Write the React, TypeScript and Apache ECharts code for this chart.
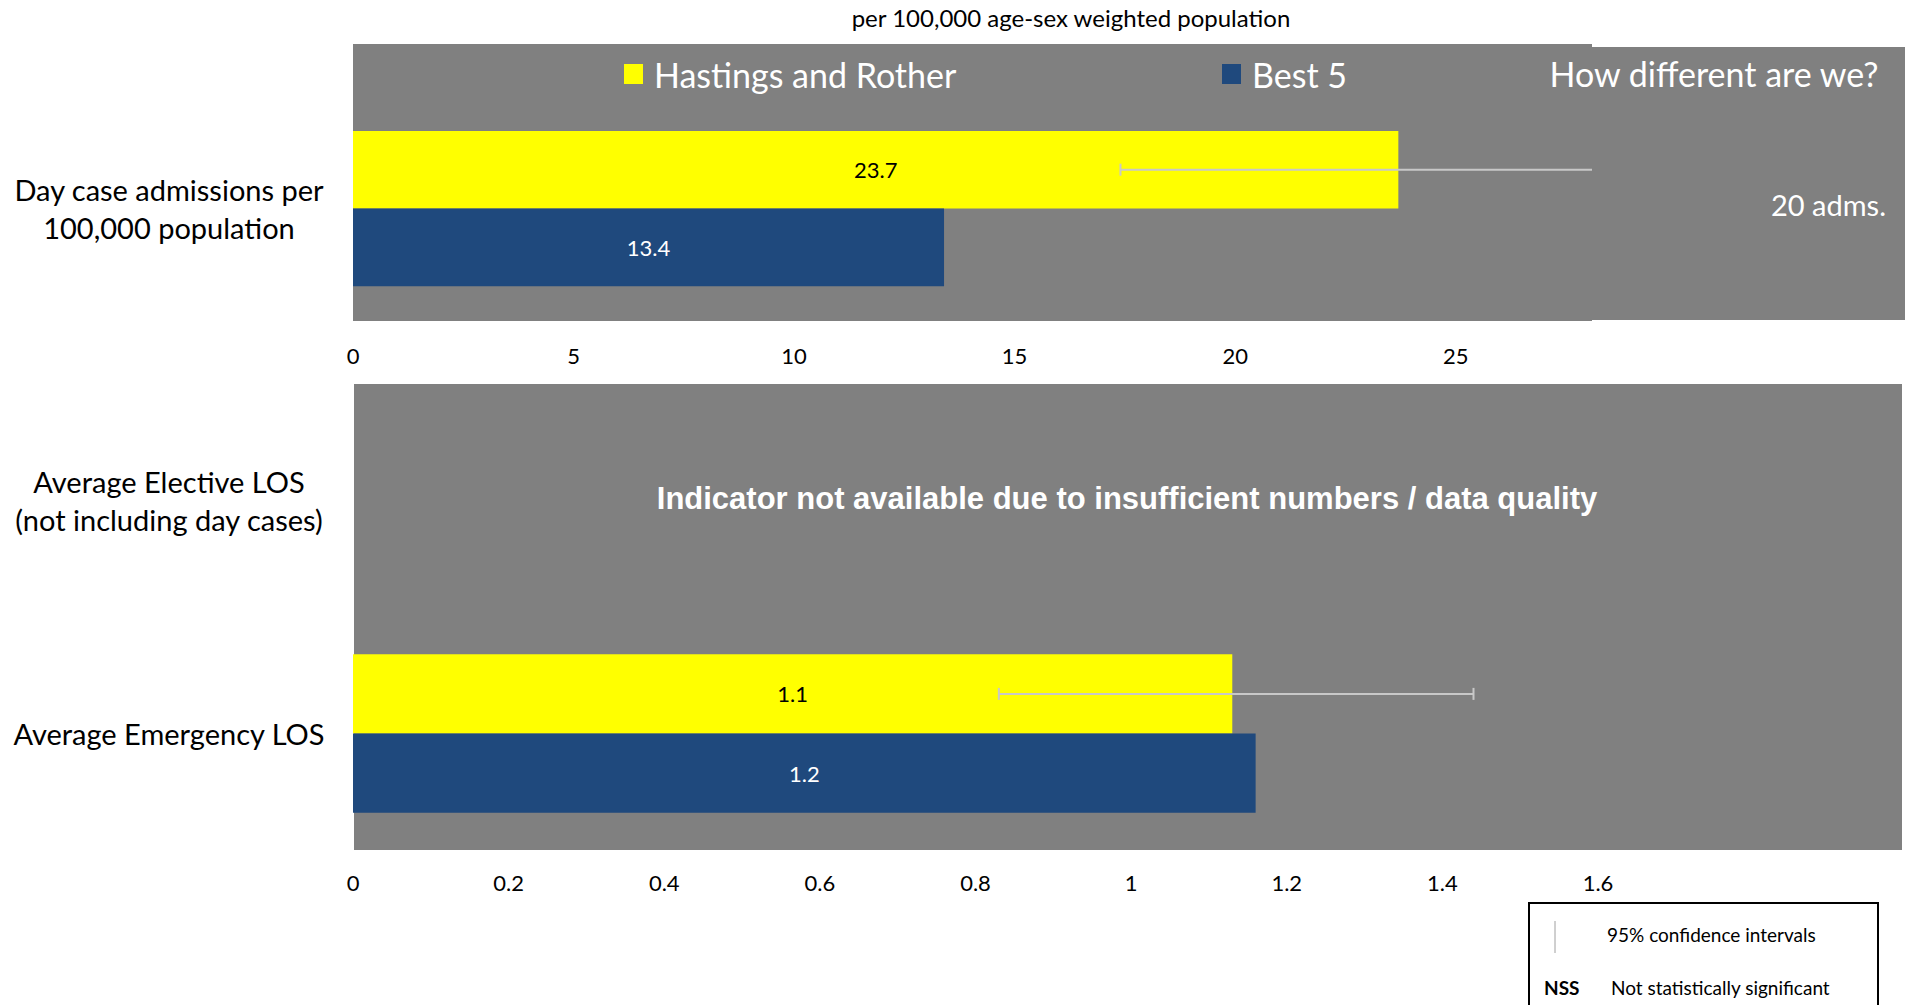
import React, { useEffect, useRef } from 'react';
import * as echarts from 'echarts';

// ---------- data ----------
const seriesNames = ['Hastings and Rother', 'Best 5'];

const topCategories = ['Day case admissions per\n100,000 population'];
const topHastings = [23.7];
const topBest5 = [13.4];
const topCI: ([number, number] | null)[] = [[17.4, 29.5]];
const topAxisMin = 0;
const topAxisMax = 28;
const topAxisInterval = 5;

const bottomCategories = ['Average Elective LOS\n(not including day cases)', 'Average Emergency LOS'];
const bottomHastings = [null, 1.13];
const bottomBest5 = [null, 1.16];
const bottomCI: ([number, number] | null)[] = [null, [0.83, 1.44]];
const bottomAxisMin = 0;
const bottomAxisMax = 1.6;
const bottomAxisInterval = 0.2;

const titleText = 'per 100,000 age-sex weighted population';
const diffHeader = 'How different are we?';
const diffValue = '20 adms.';
const notAvailableText = 'Indicator not available due to insufficient numbers / data quality';
const keyCI = '95% confidence intervals';
const keyNSSAbbr = 'NSS';
const keyNSS = 'Not statistically significant';

// ---------- styles ----------
const YELLOW = '#FFFF00';
const BLUE = '#1F497D';
const GRAY = '#808080';
const ERR = '#C8C8C8';
const FONT = 'Lato';
const GAP_TOP = 0.31;
const GAP_BOTTOM = 0.32;

function makeErrorRender(gap: number) {
  return (params: any, api: any) => {
    const cat = api.value(0);
    const lo = api.value(1);
    const hi = api.value(2);
    const pLo = api.coord([lo, cat]);
    const pHi = api.coord([hi, cat]);
    const band = api.size([0, 1])[1];
    const y = pLo[1] - (band * (1 - gap)) / 4;
    const cs = params.coordSys;
    const right = cs.x + cs.width;
    const xHi = Math.min(pHi[0], right + 4);
    const cap = 6;
    const style = { stroke: ERR, lineWidth: 2 };
    const children: any[] = [
      { type: 'line', shape: { x1: pLo[0], y1: y, x2: xHi, y2: y }, style },
      { type: 'line', shape: { x1: pLo[0], y1: y - cap, x2: pLo[0], y2: y + cap }, style },
    ];
    if (pHi[0] <= right) {
      children.push({ type: 'line', shape: { x1: pHi[0], y1: y - cap, x2: pHi[0], y2: y + cap }, style });
    }
    return { type: 'group', children };
  };
}

function ciData(ci: ([number, number] | null)[]) {
  const out: number[][] = [];
  ci.forEach((c, i) => {
    if (c) out.push([i, c[0], c[1]]);
  });
  return out;
}

function barLabel(color: string) {
  return {
    show: true,
    position: 'inside',
    color,
    fontFamily: FONT,
    fontSize: 22,
    formatter: (p: any) => (p.value == null ? '' : Number(p.value).toFixed(1)),
  };
}

export default function App() {
  const ref = useRef<HTMLDivElement>(null);

  useEffect(() => {
    if (!ref.current) return;
    const chart = echarts.init(ref.current, undefined, { renderer: 'svg' });

    const catLabel = {
      align: 'center',
      margin: 184,
      fontFamily: FONT,
      fontSize: 29,
      lineHeight: 38,
      color: '#000',
    };

    const legendBase = {
      top: 57,
      padding: 0,
      icon: 'rect',
      itemWidth: 19,
      itemHeight: 20,
      selectedMode: false,
      textStyle: { color: '#fff', fontSize: 34, fontFamily: FONT, padding: [0, 0, 0, 6] },
    };

    const option: any = {
      animation: false,
      backgroundColor: '#fff',
      textStyle: { fontFamily: FONT },
      legend: [
        { ...legendBase, data: [seriesNames[0]], left: 624 },
        { ...legendBase, data: [seriesNames[1]], left: 1222 },
      ],
      grid: [
        { left: 353, right: 318, top: 96, bottom: 684, containLabel: false, outerBoundsMode: 'none' },
        { left: 353, right: 308, top: 384, bottom: 155, containLabel: false, outerBoundsMode: 'none' },
      ],
      xAxis: [
        {
          gridIndex: 0,
          type: 'value',
          min: topAxisMin,
          max: topAxisMax,
          interval: topAxisInterval,
          axisLine: { show: false },
          axisTick: { show: false },
          splitLine: { show: false },
          axisLabel: { showMaxLabel: false, fontFamily: FONT, fontSize: 22, color: '#000', margin: 23 },
        },
        {
          gridIndex: 1,
          type: 'value',
          min: bottomAxisMin,
          max: bottomAxisMax,
          interval: bottomAxisInterval,
          axisLine: { show: false },
          axisTick: { show: false },
          splitLine: { show: false },
          axisLabel: { fontFamily: FONT, fontSize: 22, color: '#000', margin: 21 },
        },
      ],
      yAxis: [
        {
          gridIndex: 0,
          type: 'category',
          data: topCategories,
          inverse: true,
          axisLine: { show: false },
          axisTick: { show: false },
          axisLabel: catLabel,
        },
        {
          gridIndex: 1,
          type: 'category',
          data: bottomCategories,
          inverse: true,
          axisLine: { show: false },
          axisTick: { show: false },
          axisLabel: catLabel,
        },
      ],
      series: [
        {
          name: seriesNames[0],
          type: 'bar',
          xAxisIndex: 0,
          yAxisIndex: 0,
          data: topHastings,
          itemStyle: { color: YELLOW },
          barGap: '0%',
          barCategoryGap: GAP_TOP * 100 + '%',
          label: barLabel('#000'),
        },
        {
          name: seriesNames[1],
          type: 'bar',
          xAxisIndex: 0,
          yAxisIndex: 0,
          data: topBest5,
          itemStyle: { color: BLUE },
          barGap: '0%',
          barCategoryGap: GAP_TOP * 100 + '%',
          label: barLabel('#fff'),
        },
        {
          name: seriesNames[0],
          type: 'bar',
          xAxisIndex: 1,
          yAxisIndex: 1,
          data: bottomHastings,
          itemStyle: { color: YELLOW },
          barGap: '0%',
          barCategoryGap: GAP_BOTTOM * 100 + '%',
          label: barLabel('#000'),
        },
        {
          name: seriesNames[1],
          type: 'bar',
          xAxisIndex: 1,
          yAxisIndex: 1,
          data: bottomBest5,
          itemStyle: { color: BLUE },
          barGap: '0%',
          barCategoryGap: GAP_BOTTOM * 100 + '%',
          label: barLabel('#fff'),
        },
        {
          name: 'CI top',
          type: 'custom',
          xAxisIndex: 0,
          yAxisIndex: 0,
          z: 5,
          renderItem: makeErrorRender(GAP_TOP),
          encode: { x: [1, 2], y: 0 },
          data: ciData(topCI),
        },
        {
          name: 'CI bottom',
          type: 'custom',
          xAxisIndex: 1,
          yAxisIndex: 1,
          z: 5,
          renderItem: makeErrorRender(GAP_BOTTOM),
          encode: { x: [1, 2], y: 0 },
          data: ciData(bottomCI),
        },
      ],
      graphic: [
        { type: 'rect', z: -10, shape: { x: 353, y: 44, width: 1239, height: 277 }, style: { fill: GRAY } },
        { type: 'rect', z: -10, shape: { x: 1590, y: 47, width: 315, height: 273 }, style: { fill: GRAY } },
        { type: 'rect', z: -10, shape: { x: 354, y: 384, width: 1548, height: 466 }, style: { fill: GRAY } },
        {
          type: 'text', z: 50, x: 1071, y: 17,
          style: { text: titleText, fill: '#000', fontFamily: FONT, fontSize: 24, align: 'center', verticalAlign: 'middle' },
        },
        {
          type: 'text', z: 50, x: 1714, y: 73,
          style: { text: diffHeader, fill: '#fff', fontFamily: FONT, fontSize: 34, align: 'center', verticalAlign: 'middle' },
        },
        {
          type: 'text', z: 50, x: 1886, y: 204,
          style: { text: diffValue, fill: '#fff', fontFamily: FONT, fontSize: 29, align: 'right', verticalAlign: 'middle' },
        },
        {
          type: 'text', z: 50, x: 1127, y: 498,
          style: { text: notAvailableText, fill: '#fff', fontFamily: 'Liberation Sans', fontWeight: 'bold', fontSize: 31, align: 'center', verticalAlign: 'middle' },
        },
        { type: 'rect', z: 50, shape: { x: 1529, y: 903, width: 349, height: 130 }, style: { fill: '#fff', stroke: '#000', lineWidth: 2 } },
        { type: 'line', z: 51, shape: { x1: 1555, y1: 921, x2: 1555, y2: 953 }, style: { stroke: '#A0A0A0', lineWidth: 1 } },
        {
          type: 'text', z: 51, x: 1607, y: 934,
          style: { text: keyCI, fill: '#000', fontFamily: FONT, fontSize: 19, align: 'left', verticalAlign: 'middle' },
        },
        {
          type: 'text', z: 51, x: 1544, y: 987,
          style: { text: keyNSSAbbr, fill: '#000', fontFamily: FONT, fontWeight: 'bold', fontSize: 19, align: 'left', verticalAlign: 'middle' },
        },
        {
          type: 'text', z: 51, x: 1611, y: 987,
          style: { text: keyNSS, fill: '#000', fontFamily: FONT, fontSize: 19, align: 'left', verticalAlign: 'middle' },
        },
      ],
    };

    chart.setOption(option);
    return () => chart.dispose();
  }, []);

  return (
    <div
      ref={ref}
      style={{ position: 'fixed', left: 0, top: 0, width: 1906, height: 1005, overflow: 'hidden' }}
    />
  );
}
